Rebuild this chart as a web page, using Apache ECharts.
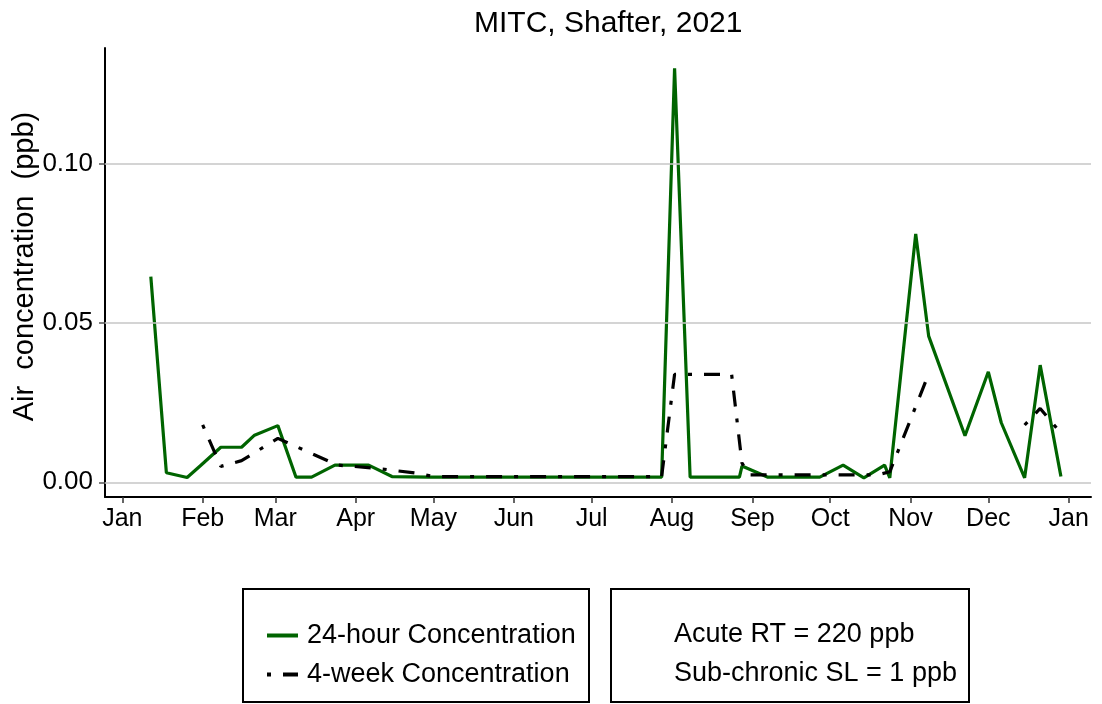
<!DOCTYPE html>
<html>
<head>
<meta charset="utf-8">
<title>MITC, Shafter, 2021</title>
<script src="https://cdn.jsdelivr.net/npm/echarts@6/dist/echarts.min.js"></script>
<style>
  html, body { margin: 0; padding: 0; background: #fff; }
  #chart { width: 1102px; height: 704px; }
</style>
</head>
<body>
<div id="chart"></div>
<script>
// 24-hour samples
var dayDates = ['2021-01-12', '2021-01-18', '2021-01-26', '2021-01-31', '2021-02-08', '2021-02-16',
  '2021-02-21', '2021-03-02', '2021-03-09', '2021-03-15', '2021-03-24', '2021-04-06', '2021-04-15',
  '2021-04-29', '2021-05-13', '2021-05-27', '2021-06-10', '2021-06-24', '2021-07-08', '2021-07-28',
  '2021-08-02', '2021-08-08', '2021-08-27', '2021-08-28', '2021-09-07', '2021-09-27', '2021-10-06',
  '2021-10-14', '2021-10-22', '2021-10-24', '2021-11-03', '2021-11-08', '2021-11-22', '2021-12-01',
  '2021-12-06', '2021-12-15', '2021-12-21', '2021-12-29'];
var dayValues = [0.0646, 0.0030, 0.0015, 0.0051, 0.0110, 0.0110,
  0.0148, 0.0178, 0.0016, 0.0016, 0.0054, 0.0054, 0.0018,
  0.0016, 0.0016, 0.0016, 0.0016, 0.0016, 0.0016, 0.0016,
  0.1300, 0.0016, 0.0016, 0.0051, 0.0016, 0.0016, 0.0054,
  0.0014, 0.0054, 0.0014, 0.0780, 0.0459, 0.0146, 0.0347,
  0.0187, 0.0014, 0.0368, 0.0018];

// 4-week samples (null = no data)
var weekDates = ['2021-02-01', '2021-02-08', '2021-02-16', '2021-03-02', '2021-03-25', '2021-04-09',
  '2021-04-25', '2021-05-01', '2021-06-01', '2021-07-01', '2021-07-28', '2021-08-02', '2021-08-24',
  '2021-08-28', '2021-08-31', '2021-10-19', '2021-10-24', '2021-11-07', '2021-11-28', '2021-12-15',
  '2021-12-21', '2021-12-28'];
var weekValues = [0.0180, 0.0050, 0.0068, 0.0138, 0.0054, 0.0044,
  0.0028, 0.0018, 0.0018, 0.0018, 0.0018, 0.0339, 0.0339,
  0.0060, 0.0023, 0.0023, 0.0033, 0.0320, null, 0.0180,
  0.0232, 0.0164];

var monthNames = ['Jan', 'Feb', 'Mar', 'Apr', 'May', 'Jun', 'Jul', 'Aug', 'Sep', 'Oct', 'Nov', 'Dec', 'Jan'];
var monthStarts = ['2021-01-01', '2021-02-01', '2021-03-01', '2021-04-01', '2021-05-01', '2021-06-01',
  '2021-07-01', '2021-08-01', '2021-09-01', '2021-10-01', '2021-11-01', '2021-12-01', '2022-01-01'];
var yTicks = [0, 0.05, 0.10];

var font = 'Liberation Sans, Arial, Helvetica, sans-serif';
var DAY = 86400000;
var t0 = Date.UTC(2021, 0, 1);

// days since 1 Jan 2021
function dayNum(s) {
  var p = s.split('-');
  return (Date.UTC(+p[0], +p[1] - 1, +p[2]) - t0) / DAY;
}
function zip(d, v) {
  var out = [];
  for (var i = 0; i < d.length; i++) out.push([dayNum(d[i]), v[i]]);
  return out;
}
var monthTicks = monthStarts.map(dayNum);

var chart = echarts.init(document.getElementById('chart'), null, { renderer: 'canvas' });

chart.setOption({
  animation: false,
  backgroundColor: '#fff',
  textStyle: { fontFamily: font },
  title: {
    text: 'MITC, Shafter, 2021',
    left: 469, top: 4,
    textStyle: { fontFamily: font, fontSize: 30, fontWeight: 'normal', color: '#000' }
  },
  grid: { left: 105, top: 48, right: 11, bottom: 207, outerBoundsMode: 'none', containLabel: false },
  xAxis: {
    type: 'value',
    min: -6.67,
    max: 373.6,
    axisLine: { onZero: false, lineStyle: { color: '#000', width: 2 } },
    axisTick: { show: true, length: 6, lineStyle: { color: '#333', width: 1.5 }, customValues: monthTicks },
    axisLabel: {
      customValues: monthTicks,
      margin: 10, fontSize: 25, color: '#000', fontFamily: font,
      formatter: function (v) { return monthNames[monthTicks.indexOf(v)]; }
    },
    splitLine: { show: false }
  },
  yAxis: {
    type: 'value',
    min: -0.00462,
    max: 0.1364,
    name: 'Air  concentration  (ppb)',
    nameLocation: 'middle',
    nameGap: 66,
    nameMoveOverlap: false,
    nameTextStyle: { fontFamily: font, fontSize: 29, color: '#000', padding: [0, 0, 0, 12] },
    axisLine: { show: true, onZero: false, lineStyle: { color: '#000', width: 2 } },
    axisTick: { show: true, length: 6, lineStyle: { color: '#555', width: 1.5 }, customValues: yTicks },
    axisLabel: {
      customValues: yTicks,
      margin: 12, fontSize: 26, color: '#000', fontFamily: font,
      formatter: function (v) { return v.toFixed(2); }
    },
    splitLine: { show: false }
  },
  legend: {
    data: ['24-hour Concentration', '4-week Concentration'],
    orient: 'vertical',
    left: 260, top: 617,
    itemWidth: 31, itemHeight: 14, itemGap: 12,
    itemStyle: { opacity: 0 },
    lineStyle: { width: 4 },
    textStyle: { fontFamily: font, fontSize: 27, color: '#000', padding: [0, 0, 0, 4] },
    selectedMode: false
  },
  graphic: [
    { type: 'rect', shape: { x: 243, y: 589, width: 346, height: 113 }, style: { fill: 'none', stroke: '#000', lineWidth: 2 } },
    { type: 'rect', shape: { x: 611, y: 589, width: 358, height: 113 }, style: { fill: 'none', stroke: '#000', lineWidth: 2 } },
    { type: 'text', left: 674, top: 621, style: { text: 'Acute RT = 220 ppb', font: '27px ' + font, fill: '#000' } },
    { type: 'text', left: 674, top: 660, style: { text: 'Sub-chronic SL = 1 ppb', font: '27px ' + font, fill: '#000' } }
  ],
  series: [
    {
      name: '24-hour Concentration',
      type: 'line',
      data: zip(dayDates, dayValues),
      symbol: 'none',
      lineStyle: { color: '#006400', width: 3.2 },
      itemStyle: { color: '#006400' },
      z: 3,
      markLine: {
        silent: true,
        symbol: 'none',
        label: { show: false },
        lineStyle: { color: '#c6c6c6', width: 1.5, type: 'solid' },
        data: yTicks.map(function (v) { return { yAxis: v }; })
      }
    },
    {
      name: '4-week Concentration',
      type: 'line',
      data: zip(weekDates, weekValues),
      symbol: 'none',
      connectNulls: false,
      lineStyle: { color: '#000', width: 3.2, type: [4, 12, 16, 12] },
      itemStyle: { color: '#000' },
      z: 4
    }
  ]
});
</script>
</body>
</html>
